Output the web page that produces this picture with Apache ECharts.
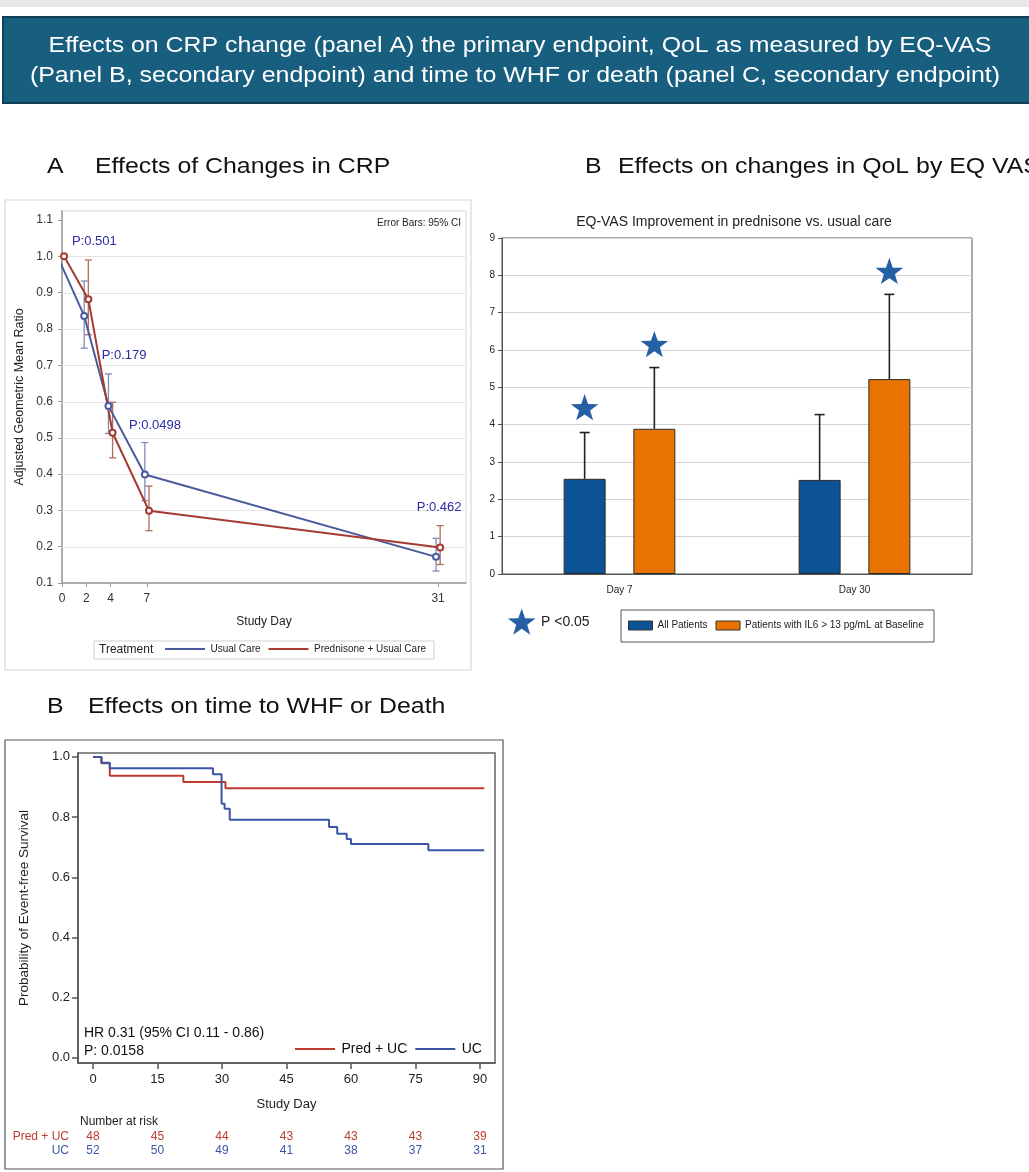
<!DOCTYPE html>
<html><head><meta charset="utf-8">
<script src="https://cdn.jsdelivr.net/npm/echarts@6/dist/echarts.min.js"></script>
<style>html,body{margin:0;padding:0;background:#fff}#c{width:1029px;height:1172px}</style>
</head><body><div id="c"></div>
<script>
// ---------- Panel A: CRP (adjusted geometric mean ratio) ----------
const crpDays    = [0, 2, 4, 7, 31];
const crpUsual   = [0.985, 0.836, 0.588, 0.399, 0.172];
const crpUsualLo = [null, 0.747, 0.512, 0.327, 0.133];
const crpUsualHi = [null, 0.932, 0.676, 0.487, 0.223];
const crpPred    = [1.000, 0.882, 0.514, 0.299, 0.198];
const crpPredLo  = [null, 0.784, 0.445, 0.244, 0.151];
const crpPredHi  = [null, 0.990, 0.598, 0.367, 0.258];
const crpPLabels = ['P:0.501', 'P:0.179', 'P:0.0498', 'P:0.462'];
const crpPAnchor = [[0.82, 1.04], [3.27, 0.726], [5.52, 0.535], [29.24, 0.3075]];
const crpXTicks  = [0, 2, 4, 7, 31];
const crpYTicks  = [0.1, 0.2, 0.3, 0.4, 0.5, 0.6, 0.7, 0.8, 0.9, 1.0, 1.1];
const crpGridLines = [0.2, 0.3, 0.4, 0.5, 0.6, 0.7, 0.8, 0.9, 1.0];

// ---------- Panel B: EQ-VAS ----------
const vasCats     = ['Day 7', 'Day 30'];
const vasAll      = [2.55, 2.52];
const vasAllHi    = [3.79, 4.27];
const vasIL6      = [3.89, 5.22];
const vasIL6Hi    = [5.53, 7.49];
const vasStarAll  = [[0, 4.47]];
const vasStarIL6  = [[0, 6.16], [1, 8.12]];

// ---------- Panel C: Kaplan-Meier ----------
const kmPred = [[0, 1], [1.95, 0.979], [3.9, 0.9375], [21, 0.917], [30.8, 0.896], [91, 0.896]];
const kmUC   = [[0, 1], [1.95, 0.981], [3.9, 0.962], [27.9, 0.942], [29.9, 0.844], [30.6, 0.828],
                [31.8, 0.791], [54.9, 0.767], [56.8, 0.745], [59, 0.727], [60, 0.711], [78, 0.69], [91, 0.69]];
const kmXTicks = [0, 15, 30, 45, 60, 75, 90];
const kmYTicks = [0, 0.2, 0.4, 0.6, 0.8, 1.0];
const riskGroups = ['Pred + UC', 'UC'];
const riskPred = [48, 45, 44, 43, 43, 43, 39];
const riskUC   = [52, 50, 49, 41, 38, 37, 31];

// ---------- styling constants ----------
const FONT = 'Liberation Sans, Arial, sans-serif';
const C_BLUE_A = '#4a5a9c', C_RED_A = '#a53b30';
const C_BLUE_CI = '#7f8ab8', C_RED_CI = '#b36a5e';
const C_PTXT = '#2b2ba6';
const C_BAR1 = '#0b5394', C_BAR2 = '#e97300', C_STAR = '#2660a4';
const C_RED_C = '#bf3a30', C_BLUE_C = '#3b55a6';
const DODGE = 0.17;
const BAR_W = 42, BAR_GAP = 0.66, BAR_OFF = BAR_W * (1 + BAR_GAP) / 2;
const STAR_R = 14.5;
const TSCALE = 1.13;

function starPoints(cx, cy, R) {
  const r = R * 0.40, pts = [];
  for (let k = 0; k < 10; k++) {
    const ang = -Math.PI / 2 + k * Math.PI / 5;
    const rad = k % 2 === 0 ? R : r;
    pts.push([cx + rad * Math.cos(ang), cy + rad * Math.sin(ang)]);
  }
  return pts;
}
function ciRender(color) {
  return function (params, api) {
    const a = api.coord([api.value(0), api.value(1)]);
    const b = api.coord([api.value(0), api.value(2)]);
    const x = a[0], h = 3.5, st = { stroke: color, lineWidth: 1.3 };
    return { type: 'group', children: [
      { type: 'line', shape: { x1: x, y1: a[1], x2: x, y2: b[1] }, style: st },
      { type: 'line', shape: { x1: x - h, y1: a[1], x2: x + h, y2: a[1] }, style: st },
      { type: 'line', shape: { x1: x - h, y1: b[1], x2: x + h, y2: b[1] }, style: st }
    ]};
  };
}
function upErrRender(off) {
  return function (params, api) {
    const a = api.coord([api.value(0), api.value(1)]);
    const b = api.coord([api.value(0), api.value(2)]);
    const x = a[0] + off, h = 5, st = { stroke: '#222', lineWidth: 1.6 };
    return { type: 'group', children: [
      { type: 'line', shape: { x1: x, y1: a[1], x2: x, y2: b[1] }, style: st },
      { type: 'line', shape: { x1: x - h, y1: b[1], x2: x + h, y2: b[1] }, style: st }
    ]};
  };
}
function starRender(off) {
  return function (params, api) {
    const p = api.coord([api.value(0), api.value(1)]);
    return { type: 'polygon', shape: { points: starPoints(p[0] + off, p[1] + 1.5, STAR_R) }, style: { fill: C_STAR } };
  };
}

const chart = echarts.init(document.getElementById('c'), null, { renderer: 'canvas' });
const lineIcon = 'path://M0,0H40V2H0Z';

const option = {
  animation: false,
  backgroundColor: '#fff',
  textStyle: { fontFamily: FONT },
  grid: [
    { left: 62, top: 211, width: 404, height: 372, show: true, borderColor: '#d5d5d5', borderWidth: 1 },
    { left: 502, top: 238, width: 470, height: 336, show: true, borderColor: '#555', borderWidth: 1 },
    { left: 78, top: 753, width: 417, height: 310, show: true, borderColor: '#666', borderWidth: 1.5 },
    { left: 78, top: 1130, width: 417, height: 28 }
  ],
  xAxis: [
    { gridIndex: 0, type: 'value', min: 0, max: 33.3,
      axisLine: { onZero: false, lineStyle: { color: '#999', width: 1.5 } },
      axisTick: { customValues: crpXTicks, length: 4, lineStyle: { color: '#999' } },
      axisLabel: { customValues: crpXTicks, fontSize: 12, color: '#333', margin: 10 },
      splitLine: { show: false },
      name: 'Study Day', nameLocation: 'middle', nameGap: 33, nameTextStyle: { fontSize: 12, color: '#222' } },
    { gridIndex: 1, type: 'category', data: vasCats,
      axisLine: { lineStyle: { color: '#555' } },
      axisTick: { alignWithLabel: true, length: 5, lineStyle: { color: '#555' } },
      axisLabel: { fontSize: 10, color: '#222', margin: 11 } },
    { gridIndex: 2, type: 'value', min: -3.5, max: 93.5,
      axisLine: { onZero: false, lineStyle: { color: '#555', width: 1.5 } },
      axisTick: { customValues: kmXTicks, length: 6, lineStyle: { color: '#555', width: 1.5 } },
      axisLabel: { customValues: kmXTicks, fontSize: 13, color: '#222', margin: 10 },
      splitLine: { show: false },
      name: 'Study Day', nameLocation: 'middle', nameGap: 35, nameTextStyle: { fontSize: 13, color: '#222' } },
    { gridIndex: 3, type: 'value', min: -3.5, max: 93.5, show: false }
  ],
  yAxis: [
    { gridIndex: 0, type: 'value', min: 0.1, max: 1.125, interval: 0.1,
      axisLine: { show: true, onZero: false, lineStyle: { color: '#999', width: 1.5 } },
      axisTick: { show: true, customValues: crpYTicks, length: 4, lineStyle: { color: '#999' } },
      axisLabel: { customValues: crpYTicks, formatter: v => v.toFixed(1), fontSize: 12, color: '#333', margin: 9 },
      splitLine: { show: false },
      name: 'Adjusted Geometric Mean Ratio', nameLocation: 'middle', nameGap: 36, nameTextStyle: { fontSize: 12.5, color: '#222' } },
    { gridIndex: 1, type: 'value', min: 0, max: 9, interval: 1,
      axisLine: { show: true, lineStyle: { color: '#555' } },
      axisTick: { show: true, length: 4, lineStyle: { color: '#555' } },
      axisLabel: { fontSize: 10, color: '#222', margin: 7 },
      splitLine: { show: true, lineStyle: { color: '#d3d3d3' } } },
    { gridIndex: 2, type: 'value', min: -0.017, max: 1.013,
      axisLine: { show: true, onZero: false, lineStyle: { color: '#555', width: 1.5 } },
      axisTick: { show: true, customValues: kmYTicks, length: 6, lineStyle: { color: '#555', width: 1.5 } },
      axisLabel: { customValues: kmYTicks, formatter: v => v.toFixed(1), fontSize: 13, color: '#222', margin: 8 },
      splitLine: { show: false },
      name: 'Probability of Event-free Survival', nameLocation: 'middle', nameGap: 47, nameTextStyle: { fontSize: 13.5, color: '#222' } },
    { gridIndex: 3, type: 'category', data: riskGroups, inverse: true,
      axisLine: { show: false }, axisTick: { show: false },
      axisLabel: { interval: 0, fontSize: 12, margin: 9, color: v => (v === 'UC' ? C_BLUE_C : C_RED_C) } }
  ],
  legend: [
    { data: ['Usual Care', 'Prednisone + Usual Care'], left: 165, top: 644, padding: 0,
      icon: lineIcon, itemWidth: 41, itemHeight: 2, itemGap: 8, selectedMode: false,
      textStyle: { fontSize: 10, color: '#222' } },
    { data: ['All Patients', 'Patients with IL6 > 13 pg/mL at Baseline'], left: 628, top: 620.5, padding: 0,
      icon: 'rect', itemWidth: 24, itemHeight: 9, itemGap: 8, selectedMode: false,
      itemStyle: { borderColor: '#333', borderWidth: 1 },
      textStyle: { fontSize: 10, color: '#222' } },
    { data: ['Pred + UC', 'UC'], left: 295, top: 1042, padding: 0,
      icon: lineIcon, itemWidth: 43, itemHeight: 2, itemGap: 8, selectedMode: false,
      textStyle: { fontSize: 14, color: '#111' } }
  ],
  series: [
    // Panel A gridlines (0.2 .. 1.0)
    { type: 'custom', name: 'crp-grid', xAxisIndex: 0, yAxisIndex: 0, z: 1, silent: true,
      data: crpGridLines.map(v => [0, v]),
      renderItem: (params, api) => {
        const cs = params.coordSys;
        const y = Math.round(api.coord([0, api.value(1)])[1]) + 0.5;
        return { type: 'line', shape: { x1: cs.x, y1: y, x2: cs.x + cs.width, y2: y }, style: { stroke: '#e4e4e4', lineWidth: 1 } };
      } },
    // Panel A
    { type: 'custom', name: 'ci-usual', xAxisIndex: 0, yAxisIndex: 0, z: 2, renderItem: ciRender(C_BLUE_CI),
      data: crpDays.map((d, i) => [d - DODGE, crpUsualLo[i], crpUsualHi[i]]).filter(r => r[1] != null) },
    { type: 'custom', name: 'ci-pred', xAxisIndex: 0, yAxisIndex: 0, z: 2, renderItem: ciRender(C_RED_CI),
      data: crpDays.map((d, i) => [d + DODGE, crpPredLo[i], crpPredHi[i]]).filter(r => r[1] != null) },
    { type: 'line', name: 'Usual Care', xAxisIndex: 0, yAxisIndex: 0, z: 4, color: C_BLUE_A,
      data: crpDays.map((d, i) => [d - DODGE, crpUsual[i]]),
      lineStyle: { width: 2, color: C_BLUE_A }, symbol: 'emptyCircle', symbolSize: 6,
      itemStyle: { color: C_BLUE_A, borderWidth: 1.2 } },
    { type: 'line', name: 'Prednisone + Usual Care', xAxisIndex: 0, yAxisIndex: 0, z: 4, color: C_RED_A,
      data: crpDays.map((d, i) => [d + DODGE, crpPred[i]]),
      lineStyle: { width: 2, color: C_RED_A }, symbol: 'emptyCircle', symbolSize: 6,
      itemStyle: { color: C_RED_A, borderWidth: 1.2 } },
    { type: 'custom', name: 'p-labels', xAxisIndex: 0, yAxisIndex: 0, z: 6,
      data: crpPAnchor.map((p, i) => [p[0], p[1], i]),
      renderItem: (params, api) => {
        const p = api.coord([api.value(0), api.value(1)]);
        return { type: 'text', x: p[0], y: p[1],
          style: { text: crpPLabels[api.value(2)], fill: C_PTXT, font: '13px ' + FONT,
                   align: 'left', verticalAlign: 'middle' } };
      } },
    // Panel B
    { type: 'bar', name: 'All Patients', xAxisIndex: 1, yAxisIndex: 1, data: vasAll, color: C_BAR1,
      barWidth: BAR_W, barGap: (BAR_GAP * 100) + '%',
      itemStyle: { color: C_BAR1, borderColor: '#2b2b2b', borderWidth: 1 } },
    { type: 'bar', name: 'Patients with IL6 > 13 pg/mL at Baseline', xAxisIndex: 1, yAxisIndex: 1, data: vasIL6, color: C_BAR2,
      barWidth: BAR_W, barGap: (BAR_GAP * 100) + '%',
      itemStyle: { color: C_BAR2, borderColor: '#2b2b2b', borderWidth: 1 } },
    { type: 'custom', name: 'err-all', xAxisIndex: 1, yAxisIndex: 1, z: 3, renderItem: upErrRender(-BAR_OFF),
      data: vasAll.map((v, i) => [i, v, vasAllHi[i]]) },
    { type: 'custom', name: 'err-il6', xAxisIndex: 1, yAxisIndex: 1, z: 3, renderItem: upErrRender(BAR_OFF),
      data: vasIL6.map((v, i) => [i, v, vasIL6Hi[i]]) },
    { type: 'custom', name: 'star-all', xAxisIndex: 1, yAxisIndex: 1, z: 4, renderItem: starRender(-BAR_OFF), data: vasStarAll },
    { type: 'custom', name: 'star-il6', xAxisIndex: 1, yAxisIndex: 1, z: 4, renderItem: starRender(BAR_OFF), data: vasStarIL6 },
    // Panel C
    { type: 'line', name: 'Pred + UC', xAxisIndex: 2, yAxisIndex: 2, step: 'end', symbol: 'none', color: C_RED_C,
      data: kmPred, lineStyle: { width: 2, color: C_RED_C }, z: 3 },
    { type: 'line', name: 'UC', xAxisIndex: 2, yAxisIndex: 2, step: 'end', symbol: 'none', color: C_BLUE_C,
      data: kmUC, lineStyle: { width: 2, color: C_BLUE_C }, z: 4 },
    // Number at risk
    { type: 'custom', name: 'risk', xAxisIndex: 3, yAxisIndex: 3,
      data: riskPred.map((n, i) => [kmXTicks[i], 0, n]).concat(riskUC.map((n, i) => [kmXTicks[i], 1, n])),
      renderItem: (params, api) => {
        const p = api.coord([api.value(0), api.value(1)]);
        return { type: 'text', x: p[0], y: p[1],
          style: { text: String(api.value(2)), fill: api.value(1) === 0 ? C_RED_C : C_BLUE_C, font: '12px ' + FONT,
                   align: 'center', verticalAlign: 'middle' } };
      } }
  ],
  graphic: [
    { type: 'rect', shape: { x: 0, y: 0, width: 1029, height: 7 }, style: { fill: '#e8e8e8' }, silent: true },
    { type: 'rect', shape: { x: 3, y: 17, width: 1030, height: 86 }, style: { fill: '#175e7f', stroke: '#0f3e56', lineWidth: 2 } },
    { type: 'text', x: 520, y: 46, scaleX: 1.13,
      style: { text: 'Effects on CRP change (panel A) the primary endpoint, QoL as measured by EQ-VAS', fill: '#fff',
               font: '22px ' + FONT, textAlign: 'center', textVerticalAlign: 'middle' } },
    { type: 'text', x: 515, y: 76, scaleX: 1.135,
      style: { text: '(Panel B, secondary endpoint) and time to WHF or death (panel C, secondary endpoint)', fill: '#fff',
               font: '22px ' + FONT, textAlign: 'center', textVerticalAlign: 'middle' } },
    // section titles
    { type: 'text', x: 47, y: 167, scaleX: TSCALE, style: { text: 'A', fill: '#111', font: '22px ' + FONT, textVerticalAlign: 'middle' } },
    { type: 'text', x: 95, y: 167, scaleX: TSCALE, style: { text: 'Effects of Changes in CRP', fill: '#111', font: '22px ' + FONT, textVerticalAlign: 'middle' } },
    { type: 'text', x: 585, y: 167, scaleX: TSCALE, style: { text: 'B', fill: '#111', font: '22px ' + FONT, textVerticalAlign: 'middle' } },
    { type: 'text', x: 618, y: 167, scaleX: TSCALE, style: { text: 'Effects on changes in QoL by EQ VAS', fill: '#111', font: '22px ' + FONT, textVerticalAlign: 'middle' } },
    { type: 'text', x: 47, y: 707, scaleX: TSCALE, style: { text: 'B', fill: '#111', font: '22px ' + FONT, textVerticalAlign: 'middle' } },
    { type: 'text', x: 88, y: 707, scaleX: TSCALE, style: { text: 'Effects on time to WHF or Death', fill: '#111', font: '22px ' + FONT, textVerticalAlign: 'middle' } },
    // panel A frame, legend box, note
    { type: 'rect', shape: { x: 5, y: 200, width: 466, height: 470 }, style: { fill: 'none', stroke: '#d8d8d8', lineWidth: 1.2 }, z: -1 },
    { type: 'rect', shape: { x: 94, y: 641, width: 340, height: 18 }, style: { fill: 'none', stroke: '#cfcfcf', lineWidth: 1 } },
    { type: 'text', x: 99, y: 650, style: { text: 'Treatment', fill: '#222', font: '12px ' + FONT, textVerticalAlign: 'middle' } },
    { type: 'text', x: 461, y: 223, style: { text: 'Error Bars: 95% CI', fill: '#222', font: '10px ' + FONT, textAlign: 'right', textVerticalAlign: 'middle' } },
    // panel B title, star key, legend box
    { type: 'text', x: 734, y: 222, style: { text: 'EQ-VAS Improvement in prednisone vs. usual care', fill: '#222', font: '14px ' + FONT, textAlign: 'center', textVerticalAlign: 'middle' } },
    { type: 'polygon', shape: { points: starPoints(521.7, 623, STAR_R) }, style: { fill: C_STAR } },
    { type: 'text', x: 541, y: 622, style: { text: 'P <0.05', fill: '#222', font: '14px ' + FONT, textVerticalAlign: 'middle' } },
    { type: 'rect', shape: { x: 621, y: 610, width: 313, height: 32 }, style: { fill: 'none', stroke: '#555', lineWidth: 1 }, z: -1 },
    // panel C frame and notes
    { type: 'rect', shape: { x: 5, y: 740, width: 498, height: 429 }, style: { fill: 'none', stroke: '#555', lineWidth: 1.2 }, z: -1 },
    { type: 'text', x: 84, y: 1033, style: { text: 'HR 0.31 (95% CI 0.11 - 0.86)', fill: '#111', font: '14px ' + FONT, textVerticalAlign: 'middle' } },
    { type: 'text', x: 84, y: 1051.5, style: { text: 'P: 0.0158', fill: '#111', font: '14px ' + FONT, textVerticalAlign: 'middle' } },
    { type: 'text', x: 80, y: 1121.5, style: { text: 'Number at risk', fill: '#222', font: '12px ' + FONT, textVerticalAlign: 'middle' } }
  ]
};
chart.setOption(option);
</script></body></html>
